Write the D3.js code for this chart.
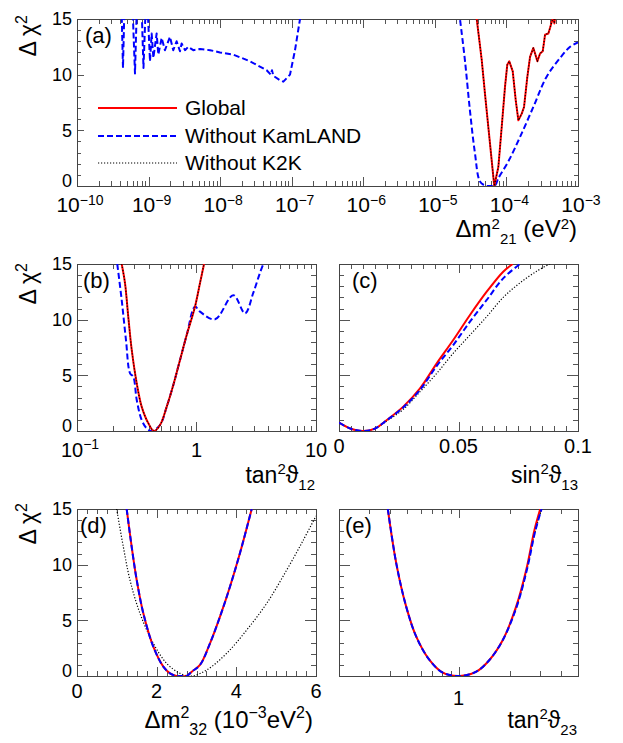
<!DOCTYPE html>
<html><head><meta charset="utf-8">
<script src="https://cdn.jsdelivr.net/npm/d3@7"></script>
<style>
body{margin:0;background:#fff}
svg{display:block}
text{font-family:"Liberation Sans",Arial,"DejaVu Sans",sans-serif;fill:#000}
</style>
</head><body>
<svg id="c" width="623" height="743"></svg>
<script>
// ---------------- DATA ----------------
const seriesNames = ["Global", "Without KamLAND", "Without K2K"];
const yTicksMajor = [0, 5, 10, 15];

// (a) Δm²21 [eV²] vs Δχ²
const a_withoutKamLAND_low = [
  [4.19e-10,16],[4.39e-10,10.6],[4.6e-10,16],
  [5.98e-10,16],[6.46e-10,10.1],[6.85e-10,16],
  [8.0e-10,16],[8.49e-10,10.6],[9.1e-10,16],
  [9.7e-10,16],[1.047e-9,11.2],[1.104e-9,13.7],[1.167e-9,11.5],[1.297e-9,13.7],
  [1.368e-9,11.8],[1.524e-9,13.3],[1.694e-9,12.2],[1.991e-9,13.4],[2.213e-9,12.2],
  [2.466e-9,13.0],[2.748e-9,12.1],[2.897e-9,12.8],[3.228e-9,12.2],[3.589e-9,12.5],
  [4.217e-9,12.2],[5.236e-9,12.3],[7.211e-9,12.2],[9.954e-9,12.0],[1.528e-8,11.8],
  [2.612e-8,11.2],[4.467e-8,10.4],[5.1e-8,10.0],[5.3e-8,10.4],[5.534e-8,9.9],
  [6.855e-8,9.5],[7.638e-8,9.37],[9.462e-8,10.0],[1.112e-7,12.2],[1.306e-7,15],[1.4e-7,16.5]
];
const a_withoutKamLAND_high = [
  [2.1e-5,16.5],[2.244e-5,15],[2.63e-5,11.3],[3.09e-5,6.8],[3.63e-5,2.96],[4.27e-5,0.4],
  [5.01e-5,0.05],[5.89e-5,0],[6.92e-5,0.05],[7.71e-5,0.7],[1.062e-4,2.2],[1.549e-4,4.4],
  [2.377e-4,7.1],[3.63e-4,9.8],[5.62e-4,11.5],[7.76e-4,12.5],[1.0e-3,12.9]
];
const a_global = [
  [3.7e-5,16.5],[3.846e-5,15],[4.519e-5,11.3],[5.012e-5,8.3],[5.585e-5,5.3],[6.223e-5,2.3],
  [6.761e-5,0],[7.709e-5,1.7],[8.59e-5,5.3],[9.55e-5,8.9],[1.028e-4,10.9],[1.096e-4,11.2],
  [1.225e-4,10.3],[1.349e-4,7.7],[1.469e-4,5.9],[1.637e-4,6.5],[1.762e-4,7.1],[1.959e-4,9.8],
  [2.138e-4,11.6],[2.377e-4,12.4],[2.512e-4,11.9],[2.704e-4,11.2],[2.951e-4,11.9],
  [3.214e-4,12.1],[3.467e-4,13.6],[3.855e-4,13.7],[4.198e-4,14.5],[4.519e-4,15.2],
  [4.677e-4,14.6],[4.842e-4,15.4]
];
const a_withoutK2K = a_global;

// (b) tan²θ12
const b_global = [
  [0.2366,15],[0.2523,13.27],[0.2685,10.27],[0.2871,7.28],[0.3162,4.28],[0.3475,2.19],
  [0.3954,0.69],[0.4406,0],[0.4955,0.54],[0.5636,2.19],[0.6397,4.13],[0.7278,6.38],
  [0.8279,8.62],[0.9714,11.17],[1.069,13.27],[1.156,15]
];
const b_withoutK2K = b_global;
const b_withoutKamLAND = [
  [0.2173,15],[0.2366,11.77],[0.257,8.17],[0.278,5.18],[0.2958,4.88],[0.3162,2.78],
  [0.3475,0.99],[0.3828,0.24],[0.4217,0],[0.4955,0.54],[0.5636,2.19],[0.6397,4.13],
  [0.7278,6.38],[0.8279,8.62],[0.9714,11.17],[1.069,10.72],[1.429,10.03],[2.032,12.2],
  [2.547,10.57],[2.985,12.4],[3.396,14.2],[3.622,15]
];

// (c) sin²θ13
const c_global = [
  [0,0.75],[0.005,0.2],[0.0102,0],[0.015,0.22],[0.02,0.99],[0.0269,2.19],[0.0339,3.83],
  [0.0409,6.08],[0.0478,8.17],[0.0548,10.42],[0.0618,12.51],[0.0687,14.31],[0.0727,15]
];
const c_withoutKamLAND = [
  [0,0.75],[0.005,0.2],[0.0102,0],[0.015,0.22],[0.02,0.97],[0.0269,2.12],[0.0339,3.7],
  [0.0409,5.85],[0.0478,7.72],[0.0548,9.82],[0.0618,11.77],[0.0687,13.71],[0.0757,15]
];
const c_withoutK2K = [
  [0,0.75],[0.005,0.2],[0.0102,0],[0.015,0.2],[0.02,0.9],[0.0269,1.95],[0.0339,3.53],
  [0.0409,5.18],[0.0478,6.98],[0.0548,8.62],[0.0618,10.27],[0.0687,12.0],[0.0757,13.3],
  [0.0827,14.35],[0.0885,15.05]
];

// (d) Δm²32 [1e-3 eV²]
const d_global = [
  [1.247,15],[1.373,11.6],[1.499,8.62],[1.665,5.63],[1.916,2.63],[2.167,0.84],[2.335,0.24],
  [2.5,0],[2.62,0],[2.754,0],[2.88,0.39],[3.088,0.99],[3.339,2.93],[3.59,5.33],[3.84,8.02],
  [4.09,11.02],[4.386,15]
];
const d_withoutKamLAND = d_global;
const d_withoutK2K = [
  [0.996,15],[1.163,11.6],[1.33,8.62],[1.58,5.63],[1.916,2.93],[2.25,1.14],[2.586,0.24],
  [2.88,0],[3.256,0.54],[3.758,2.04],[4.26,4.13],[4.763,6.53],[5.265,9.52],[5.68,12.2],[6.0,14.37]
];

// (e) tan²θ23
const e_global = [
  [0.386,15],[0.4325,10.12],[0.4943,6.23],[0.5662,3.53],[0.6761,1.44],[0.8091,0.3],
  [1.014,0],[1.271,0.39],[1.517,1.44],[1.816,3.23],[2.173,6.23],[2.489,9.52],[2.78,13.1],[3.006,15]
];
const e_withoutKamLAND = [
  [0.386,15],[0.4325,10.12],[0.4943,6.23],[0.5662,3.53],[0.6761,1.44],[0.8091,0.3],
  [1.014,0],[1.271,0.39],[1.517,1.44],[1.816,3.23],[2.19,6.23],[2.51,9.52],[2.81,13.0],[3.06,15]
];
const e_withoutK2K = e_withoutKamLAND;

// tick labels
const aTickExps = [-10, -9, -8, -7, -6, -5, -4, -3];
const bTickLabels = [[0.1, "10", "−1"], [1, "1", ""], [10, "10", ""]];
const cTickLabels = [[0, "0"], [0.05, "0.05"], [0.1, "0.1"]];
const dTickLabels = [[0, "0"], [2, "2"], [4, "4"], [6, "6"]];
const eTickLabels = [[1, "1"]];

// ---------------- DRAWING ----------------
const svg = d3.select('#c');
const RED = '#ff0000', BLUE = '#0000ff', BLACK = '#000000';
const styles = {
  g: {stroke: RED, w: 2, dash: null},
  k: {stroke: BLACK, w: 1.2, dash: '1.2,1.8'},
  b: {stroke: BLUE, w: 2, dash: '6,3'}
};

function rich(g, parts, size, attrs, sr, up) {
  sr = sr || 0.68;
  up = up || 0.4;
  const t = g.append('text').attr('font-size', size);
  for (const k in attrs) t.attr(k, attrs[k]);
  let cur = 0;
  parts.forEach(p => {
    const s = Array.isArray(p) ? p[0] : p;
    const kind = Array.isArray(p) ? p[1] : '';
    const fs = kind ? Math.round(size * sr) : size;
    const target = kind === '^' ? -up * size : kind === '_' ? 0.3 * size : 0;
    t.append('tspan').attr('font-size', fs).attr('dy', (target - cur).toFixed(2)).text(s);
    cur = target;
  });
  return t;
}

let clipId = 0;
function panel(cfg) {
  const {x0, x1, y0, y1} = cfg;
  const xs = cfg.xscale.range([x0, x1]);
  const ys = d3.scaleLinear().domain([0, 15]).range([y1, y0]);
  const g = svg.append('g');
  const tc = '#555';
  cfg.xticks.forEach(t => {
    const x = Math.round(xs(t.v)) + 0.5;
    const L = t.major ? cfg.xMajor : cfg.xMinor;
    g.append('line').attr('x1', x).attr('x2', x).attr('y1', y1).attr('y2', y1 - L)
      .attr('stroke', tc).attr('stroke-width', 1);
    g.append('line').attr('x1', x).attr('x2', x).attr('y1', y0).attr('y2', y0 + L)
      .attr('stroke', tc).attr('stroke-width', 1);
  });
  d3.range(0, 16).forEach(v => {
    const y = Math.round(ys(v)) + 0.5;
    const L = (v % 5 === 0) ? cfg.yMajor : cfg.yMinor;
    g.append('line').attr('x1', x0).attr('x2', x0 + L).attr('y1', y).attr('y2', y)
      .attr('stroke', tc).attr('stroke-width', 1);
    g.append('line').attr('x1', x1).attr('x2', x1 - L).attr('y1', y).attr('y2', y)
      .attr('stroke', tc).attr('stroke-width', 1);
  });
  g.append('rect').attr('x', x0 + 0.5).attr('y', y0 + 0.5).attr('width', x1 - x0).attr('height', y1 - y0)
    .attr('fill', 'none').attr('stroke', '#444').attr('stroke-width', 1);
  if (cfg.yLabels) {
    yTicksMajor.forEach(v => {
      g.append('text').attr('x', x0 - 5).attr('y', ys(v)).attr('dy', v === 0 ? '0.05em' : '0.36em')
        .attr('text-anchor', 'end').attr('font-size', 18).text(v);
    });
    rich(g, ['Δ ', 'χ', ['2', '^']], 23, {
      transform: `translate(${cfg.ytx},${cfg.yty}) rotate(-90)`, 'text-anchor': 'end'
    });
  }
  const id = 'clip' + (clipId++);
  g.append('clipPath').attr('id', id).append('rect')
    .attr('x', x0).attr('y', y0).attr('width', x1 - x0).attr('height', y1 - y0);
  const cg = g.append('g').attr('clip-path', `url(#${id})`);
  cfg.curves.forEach(c => {
    const st = styles[c.s];
    const line = d3.line().x(d => xs(d[0])).y(d => ys(d[1]))
      .curve(c.smooth === false ? d3.curveLinear : d3.curveCatmullRom.alpha(0.5));
    cg.append('path').datum(c.data).attr('d', line)
      .attr('fill', 'none').attr('stroke', st.stroke).attr('stroke-width', st.w)
      .attr('stroke-dasharray', st.dash).attr('stroke-linejoin', 'round');
  });
  g.append('text').attr('x', cfg.lx).attr('y', cfg.ly).attr('font-size', 22).text(cfg.letter);
  return {g, xs, ys};
}

function logTicks(lo, hi) {
  return d3.scaleLog().domain([lo, hi]).ticks().filter(v => v >= lo * 0.999 && v <= hi * 1.001)
    .map(v => ({v, major: Math.abs(Math.log10(v) - Math.round(Math.log10(v))) < 1e-6}));
}
function linTicks(lo, hi, step, majorStep) {
  const n = Math.round((hi - lo) / step);
  return d3.range(0, n + 1).map(i => {
    const v = lo + i * step;
    return {v, major: Math.abs(v / majorStep - Math.round(v / majorStep)) < 1e-6};
  });
}

// (a)
const pa = panel({
  x0: 77, x1: 578, y0: 19, y1: 186, xscale: d3.scaleLog().domain([1e-10, 1e-3]),
  xticks: logTicks(1e-10, 1e-3), xMajor: 9, xMinor: 5, yMajor: 7, yMinor: 4,
  yLabels: true, ytx: 36, yty: 15, letter: '(a)', lx: 85, ly: 43,
  curves: [
    {data: a_withoutKamLAND_low, s: 'b', smooth: false},
    {data: a_withoutKamLAND_high, s: 'b'},
    {data: a_global, s: 'g', smooth: false},
    {data: a_withoutK2K, s: 'k', smooth: false}
  ]
});
aTickExps.forEach(e => {
  rich(pa.g, ['10', ['−' + Math.abs(e), '^']], 21,
    {x: pa.xs(Math.pow(10, e)) + 3, y: 212, 'text-anchor': 'middle'}, 0.68, 0.34);
});
rich(pa.g, ['Δm', ['2', '^'], ['21', '_'], ' (eV', ['2', '^'], ')'], 24,
  {x: 577, y: 237, 'text-anchor': 'end'}, 0.64, 0.32);
const legY = [108, 136, 163];
['g', 'b', 'k'].forEach((s, i) => {
  const st = styles[s];
  pa.g.append('line').attr('x1', 98).attr('x2', 177).attr('y1', legY[i]).attr('y2', legY[i])
    .attr('stroke', st.stroke).attr('stroke-width', st.w).attr('stroke-dasharray', st.dash);
  pa.g.append('text').attr('x', 185).attr('y', legY[i] + 7).attr('font-size', 21).text(seriesNames[i]);
});

// (b)
const pb = panel({
  x0: 77, x1: 316, y0: 264, y1: 431, xscale: d3.scaleLog().domain([0.1, 10]),
  xticks: logTicks(0.1, 10), xMajor: 9, xMinor: 5, yMajor: 11, yMinor: 5,
  yLabels: true, ytx: 36, yty: 263, letter: '(b)', lx: 83, ly: 288,
  curves: [
    {data: b_withoutKamLAND, s: 'b'},
    {data: b_global, s: 'g'},
    {data: b_withoutK2K, s: 'k'}
  ]
});
bTickLabels.forEach(([v, base, ex]) => {
  const parts = ex ? [base, [ex, '^']] : [base];
  rich(pb.g, parts, 20, {x: pb.xs(v) + (ex ? 3 : 0), y: 457, 'text-anchor': 'middle'});
});
rich(pb.g, ['tan', ['2', '^'], 'ϑ', ['12', '_']], 23, {x: 315, y: 483, 'text-anchor': 'end'}, 0.66);

// (c)
const pc = panel({
  x0: 339, x1: 578, y0: 264, y1: 431, xscale: d3.scaleLinear().domain([0, 0.1]),
  xticks: linTicks(0, 0.1, 0.005, 0.05), xMajor: 9, xMinor: 5, yMajor: 11, yMinor: 5,
  yLabels: false, letter: '(c)', lx: 352, ly: 288,
  curves: [
    {data: c_withoutK2K, s: 'k'},
    {data: c_global, s: 'g'},
    {data: c_withoutKamLAND, s: 'b'}
  ]
});
cTickLabels.forEach(([v, s]) => {
  pc.g.append('text').attr('x', pc.xs(v)).attr('y', 453).attr('text-anchor', 'middle')
    .attr('font-size', 20).text(s);
});
rich(pc.g, ['sin', ['2', '^'], 'ϑ', ['13', '_']], 23, {x: 578, y: 483, 'text-anchor': 'end'}, 0.66);

// (d)
const pd = panel({
  x0: 77, x1: 316, y0: 509, y1: 676, xscale: d3.scaleLinear().domain([0, 6]),
  xticks: linTicks(0, 6, 0.25, 2), xMajor: 9, xMinor: 5, yMajor: 11, yMinor: 5,
  yLabels: true, ytx: 36, yty: 503, letter: '(d)', lx: 80, ly: 533,
  curves: [
    {data: d_withoutK2K, s: 'k'},
    {data: d_global, s: 'g'},
    {data: d_withoutKamLAND, s: 'b'}
  ]
});
dTickLabels.forEach(([v, s]) => {
  pd.g.append('text').attr('x', pd.xs(v)).attr('y', 698).attr('text-anchor', 'middle')
    .attr('font-size', 20).text(s);
});
rich(pd.g, ['Δm', ['2', '^'], ['32', '_'], ' (10', ['−3', '^'], 'eV', ['2', '^'], ')'], 24,
  {x: 313, y: 728, 'text-anchor': 'end'}, 0.66);

// (e)
const pe = panel({
  x0: 339, x1: 578, y0: 509, y1: 676, xscale: d3.scaleLog().domain([0.2, 5]),
  xticks: logTicks(0.2, 5).map(t => ({v: t.v, major: Math.abs(t.v - 1) < 1e-9})),
  xMajor: 9, xMinor: 5, yMajor: 11, yMinor: 5,
  yLabels: false, letter: '(e)', lx: 345, ly: 533,
  curves: [
    {data: e_withoutK2K, s: 'k'},
    {data: e_global, s: 'g'},
    {data: e_withoutKamLAND, s: 'b'}
  ]
});
eTickLabels.forEach(([v, s]) => {
  pe.g.append('text').attr('x', pe.xs(v)).attr('y', 705).attr('text-anchor', 'middle')
    .attr('font-size', 20).text(s);
});
rich(pe.g, ['tan', ['2', '^'], 'ϑ', ['23', '_']], 23, {x: 577, y: 728, 'text-anchor': 'end'}, 0.66);
</script>
</body></html>
